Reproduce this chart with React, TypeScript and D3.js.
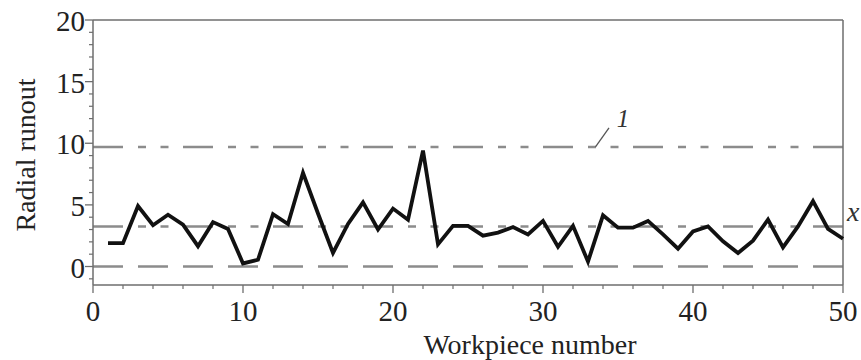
import React from "react";
import * as d3 from "d3";

// Radial runout measured on each workpiece
const workpieces: number[] = Array.from({ length: 50 }, (_, i) => i + 1);
const runout: number[] = [
  1.9, 1.9, 4.9, 3.35, 4.2, 3.4, 1.65, 3.6, 3.05, 0.25,
  0.55, 4.25, 3.45, 7.6, 4.3, 1.1, 3.45, 5.2, 3.0, 4.7,
  3.8, 9.4, 1.8, 3.3, 3.3, 2.5, 2.75, 3.2, 2.6, 3.7,
  1.6, 3.3, 0.4, 4.15, 3.15, 3.15, 3.7, 2.6, 1.45, 2.85,
  3.25, 2.05, 1.1, 2.1, 3.8, 1.55, 3.25, 5.3, 3.05, 2.25,
];

// Reference levels: upper limit (1), mean (x), lower bound
const upperLimit = 9.7;
const meanLevel = 3.25;
const lowerLevel = 0;

const xTicks: number[] = [0, 10, 20, 30, 40, 50];
const yTicks: number[] = [0, 5, 10, 15, 20];

const W = 861;
const H = 360;
const left = 93;
const right = 843;
const top = 20;
const bottom = 285;

const FAMILY = '"Liberation Serif", "Times New Roman", serif';

type LabelProps = {
  x?: number;
  y?: number;
  size: number;
  anchor?: "start" | "middle" | "end";
  italic?: boolean;
  fill?: string;
  transform?: string;
  children: React.ReactNode;
};

function Label({ x, y, size, anchor = "start", italic = false, fill = "#222", transform, children }: LabelProps) {
  return (
    <text
      x={x}
      y={y}
      transform={transform}
      textAnchor={anchor}
      fill={fill}
      fontFamily={FAMILY}
      fontSize={size}
      fontStyle={italic ? "italic" : "normal"}
      style={{ fontFamily: FAMILY, fontSize: `${size}px` }}
    >
      {children}
    </text>
  );
}

export default function App() {
  const x = d3.scaleLinear().domain([0, 50]).range([left, right]);
  const y = d3.scaleLinear().domain([-1.5, 20]).range([bottom, top]);

  const line = d3
    .line<number>()
    .x((_, i) => x(workpieces[i]))
    .y((d) => y(d));

  const xMinor = d3.range(0, 51, 2).filter((v) => v % 10 !== 0);
  const yMinor = d3.range(-1, 21, 1).filter((v) => v % 5 !== 0);

  const axisColor = "#6e6e6e";
  const refColor = "#8c8c8c";
  const dashDot = "30,15,8,14.5,8,14.5";

  return (
    <svg
      width={W}
      height={H}
      fontFamily={FAMILY}
      style={{ position: "absolute", left: 0, top: 0, background: "#fff", fontFamily: FAMILY }}
    >
      <style>{`text { font-family: ${FAMILY}; }`}</style>
      <rect x={0} y={0} width={W} height={H} fill="#fff" />

      {/* reference levels */}
      <line x1={x(0)} x2={x(50)} y1={y(upperLimit)} y2={y(upperLimit)}
        stroke={refColor} strokeWidth={2.5} strokeDasharray={dashDot} />
      <line x1={x(0)} x2={x(50)} y1={y(meanLevel)} y2={y(meanLevel)}
        stroke={refColor} strokeWidth={2.5} strokeDasharray={dashDot} />
      <line x1={x(0)} x2={x(50)} y1={y(lowerLevel)} y2={y(lowerLevel)}
        stroke={refColor} strokeWidth={2.5} strokeDasharray="30,15" />

      {/* frame */}
      <line x1={left} x2={right} y1={top} y2={top} stroke={axisColor} strokeWidth={1.5} />
      <line x1={right} x2={right} y1={top} y2={bottom} stroke={axisColor} strokeWidth={1.5} />
      <line x1={left} x2={left} y1={top} y2={bottom} stroke={axisColor} strokeWidth={1.5} />
      <line x1={left} x2={right} y1={bottom} y2={bottom} stroke={axisColor} strokeWidth={1.5} />

      {/* y ticks */}
      {yTicks.map((t) => (
        <g key={"ym" + t}>
          <line x1={left - 8} x2={left} y1={y(t)} y2={y(t)} stroke={axisColor} strokeWidth={1.3} />
          <Label x={85} y={y(t) + 11} size={29} anchor="end">{t}</Label>
        </g>
      ))}
      {yMinor.map((t) => (
        <line key={"yn" + t} x1={left - 4} x2={left} y1={y(t)} y2={y(t)}
          stroke={axisColor} strokeWidth={1.2} />
      ))}

      {/* x ticks */}
      {xTicks.map((t) => (
        <g key={"xm" + t}>
          <line x1={x(t)} x2={x(t)} y1={bottom} y2={bottom + 8} stroke={axisColor} strokeWidth={1.3} />
          <Label x={x(t)} y={321} size={29} anchor="middle">{t}</Label>
        </g>
      ))}
      {xMinor.map((t) => (
        <line key={"xn" + t} x1={x(t)} x2={x(t)} y1={bottom} y2={bottom + 4}
          stroke={axisColor} strokeWidth={1.2} />
      ))}

      {/* data series */}
      <path d={line(runout) ?? ""} fill="none" stroke="#111" strokeWidth={3.8}
        strokeLinejoin="miter" />

      {/* annotations */}
      <line x1={x(33.5)} y1={y(upperLimit)} x2={x(34.4)} y2={y(upperLimit + 1.55)}
        stroke="#555" strokeWidth={1.3} />
      <Label x={623} y={127} size={25} anchor="middle" italic fill="#333">1</Label>
      <Label x={x(50) + 4} y={y(meanLevel) - 5} size={28} italic fill="#333">x</Label>

      {/* axis titles */}
      <Label x={530} y={354} size={28} anchor="middle">Workpiece number</Label>
      <Label transform="translate(35,155) rotate(-90)" size={28} anchor="middle">Radial runout</Label>
    </svg>
  );
}
